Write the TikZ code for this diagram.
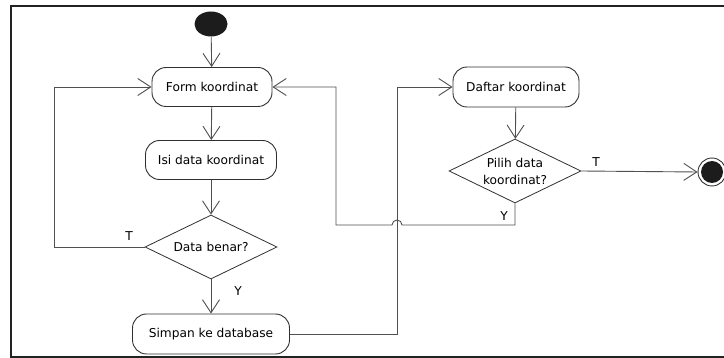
\documentclass[tikz,border=0pt]{standalone}
\usepackage{fontspec}
\setmainfont{DejaVu Sans}
\usetikzlibrary{shapes.geometric,arrows.meta}

\definecolor{framec}{HTML}{222222}
\definecolor{linec}{HTML}{505050}
\definecolor{boxc}{HTML}{303030}
\definecolor{dotc}{HTML}{1C1C1C}

\begin{document}
\begin{tikzpicture}[x=1pt,y=-1pt,
  every node/.style={font=\fontsize{12.2}{17}\selectfont, text=black},
  action/.style={draw=boxc, line width=0.9pt, rounded corners=14pt,
    minimum height=39pt, inner sep=0pt},
  choice/.style={draw=boxc, line width=0.8pt, shape=diamond, aspect=2.06,
    inner sep=0pt, minimum width=132pt, minimum height=64pt, align=center},
  flow/.style={draw=linec, line width=0.9pt,
    -{Straight Barb[length=13pt,width=17pt,line width=0.9pt]}},
  guard/.style={font=\fontsize{12.2}{14}\selectfont}]

\useasboundingbox (0,0) rectangle (724,358);

% outer frame (open on the right)
\draw[framec, line width=2pt] (724,6) -- (11,6) -- (11,357) -- (724,357);

% initial and final states
\node[draw=none, fill=dotc, ellipse, minimum width=33pt, minimum height=25pt, inner sep=0pt] (start) at (211,24) {};
\node[draw=boxc, line width=0.9pt, circle, minimum size=28pt, inner sep=0pt] (final) at (712,172) {};
\node[fill=dotc, circle, minimum size=22pt, inner sep=0pt] (finaldot) at (712,172) {};

% activities
\node[action, minimum width=120pt] (form) at (212,87) {Form koordinat};
\node[action, minimum width=131pt] (isi) at (211,160) {Isi data koordinat};
\node[choice] (benar) at (211,247) {Data benar?};
\node[action, minimum width=157pt, minimum height=40pt] (simpan) at (211,334) {Simpan ke database};
\node[action, minimum width=126pt, minimum height=40pt] (daftar) at (516,87) {Daftar koordinat};
\node[choice] (pilih) at (515,171) {Pilih data\\koordinat?};

% jump point where the "Y" branch crosses the database flow
\coordinate (jump) at (397,225);

% flows
\draw[flow] (start) -- (form);
\draw[flow] (form) -- (isi);
\draw[flow] (isi) -- (benar);
\draw[flow] (benar.west) -- (54,247) -- (54,87) -- (form.west);
\draw[flow] (benar.south) -- (simpan.north);
\draw[flow] (simpan.east) -- (397,334) -- (397,87) -- (daftar.west);
\draw[flow] (daftar) -- (pilih);
\draw[flow] (pilih.south) -- (515,225) -- ([xshift=5pt]jump)
  arc[start angle=0, end angle=180, radius=5pt] -- (336,225) -- (336,87) -- (form.east);
\draw[flow] (pilih.east) -- (final.west);

% guards
\node[guard] (gt1) at (129,236) {T};
\node[guard] (gy1) at (238,291) {Y};
\node[guard] (gy2) at (504,216) {Y};
\node[guard] (gt2) at (596,162) {T};

\end{tikzpicture}
\end{document}
